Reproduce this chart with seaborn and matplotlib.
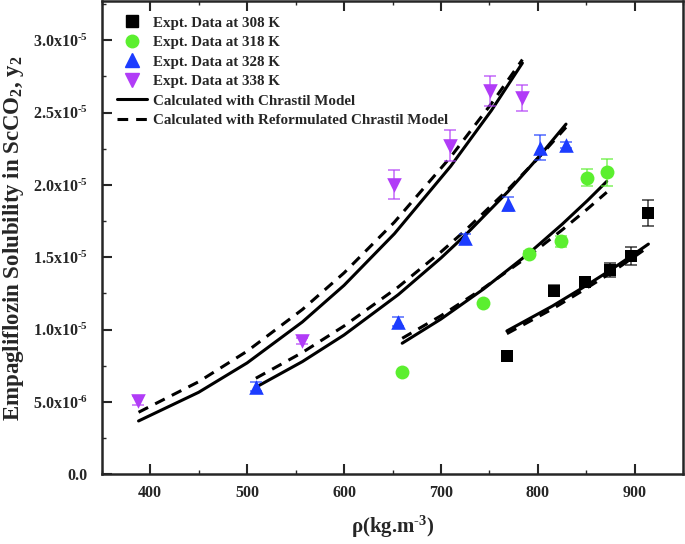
import numpy as np
import pandas as pd
import seaborn as sns
import matplotlib.pyplot as plt
from matplotlib.lines import Line2D
from matplotlib.ticker import MultipleLocator, FixedLocator

# experimental data (y in units of 1e-5)
rho_308 = [768.5, 816.6, 848.6, 874.7, 896.4, 914.0]
y_308 = [0.818, 1.270, 1.332, 1.413, 1.510, 1.807]
err_308 = [0.0, 0.04, 0.02, 0.05, 0.062, 0.09]

rho_318 = [660.2, 743.8, 790.8, 823.5, 850.6, 871.2]
y_318 = [0.710, 1.187, 1.523, 1.609, 2.050, 2.088]
err_318 = [0.0, 0.0, 0.02, 0.04, 0.06, 0.093]

rho_328 = [508.8, 655.8, 724.5, 768.9, 801.9, 828.7]
y_328 = [0.606, 1.055, 1.632, 1.869, 2.258, 2.277]
err_328 = [0.03, 0.03, 0.03, 0.05, 0.089, 0.02]

rho_338 = [387.7, 557.0, 651.5, 709.8, 751.0, 783.3]
y_338 = [0.509, 0.923, 2.000, 2.270, 2.648, 2.603]
err_338 = [0.03, 0.02, 0.10, 0.107, 0.101, 0.089]

# model curves
cx_308 = [768, 815, 848, 873, 894, 914]
chr_308 = [0.991, 1.163, 1.297, 1.403, 1.498, 1.591]
ref_308 = [0.972, 1.143, 1.277, 1.383, 1.478, 1.572]

cx_318 = [660, 700, 744, 791, 825, 851, 871]
chr_318 = [0.906, 1.073, 1.281, 1.529, 1.728, 1.891, 2.024]
ref_318 = [0.940, 1.096, 1.287, 1.511, 1.689, 1.833, 1.949]

cx_328 = [509, 557, 600, 656, 700, 725, 769, 802, 829]
chr_328 = [0.602, 0.779, 0.963, 1.242, 1.495, 1.652, 1.953, 2.202, 2.420]
ref_328 = [0.664, 0.842, 1.025, 1.295, 1.537, 1.685, 1.967, 2.197, 2.398]

cx_338 = [388, 450, 500, 557, 600, 652, 710, 752, 784]
chr_338 = [0.369, 0.567, 0.770, 1.053, 1.306, 1.663, 2.129, 2.514, 2.842]
ref_338 = [0.429, 0.640, 0.851, 1.139, 1.392, 1.743, 2.193, 2.561, 2.866]

temps = ['308', '318', '328', '338']
colors = ['#000000', '#5bef2f', '#1c3cff', '#b13cf7']
markers = ['s', 'o', '^', 'v']
msizes = [9, 10, 10.5, 10.5]

exp = [(rho_308, y_308, err_308), (rho_318, y_318, err_318),
       (rho_328, y_328, err_328), (rho_338, y_338, err_338)]
curves = [(cx_308, chr_308, ref_308), (cx_318, chr_318, ref_318),
          (cx_328, chr_328, ref_328), (cx_338, chr_338, ref_338)]

DASH = (3.5, 2.6)

sns.set_style('ticks')
plt.rcParams['font.family'] = ['Liberation Serif', 'DejaVu Serif']
plt.rcParams['font.weight'] = 'bold'
plt.rcParams['mathtext.fontset'] = 'custom'
plt.rcParams['mathtext.rm'] = 'Liberation Serif:bold'
plt.rcParams['mathtext.it'] = 'Liberation Serif:bold'
plt.rcParams['mathtext.bf'] = 'Liberation Serif:bold'
plt.rcParams['mathtext.default'] = 'rm'

fig = plt.figure(figsize=(6.85, 5.44), dpi=100)
ax = fig.add_axes([0.1485, 0.128, 0.849, 0.870])

for (cx, c1, c2) in curves:
    df = pd.DataFrame({'rho': cx, 'chr': np.array(c1) * 1e-5, 'ref': np.array(c2) * 1e-5})
    sns.lineplot(data=df, x='rho', y='chr', ax=ax, color='black', lw=2.2, legend=False)
    sns.lineplot(data=df, x='rho', y='ref', ax=ax, color='black', lw=2.2, legend=False)
    ax.lines[-1].set_dashes(DASH)

for (r, y, e), col, m, ms in zip(exp, colors, markers, msizes):
    y = np.array(y) * 1e-5
    e = np.array(e) * 1e-5
    ax.errorbar(r, y, yerr=e, fmt='none', ecolor=col, elinewidth=1.2,
                capsize=4, capthick=1.2, alpha=0.7, zorder=3)
    sns.scatterplot(x=r, y=y, ax=ax, marker=m, color=col, s=ms ** 2,
                    edgecolor=col, linewidth=0, zorder=4, legend=False)

ax.set_xlim(350, 950)
ax.set_ylim(0, 3.27e-5)
ax.xaxis.set_major_locator(FixedLocator([400, 500, 600, 700, 800, 900]))
ax.xaxis.set_minor_locator(MultipleLocator(50))
yt = [0, 0.5e-5, 1.0e-5, 1.5e-5, 2.0e-5, 2.5e-5, 3.0e-5]
ylabels = ['0.0', r'5.0x10$^{\text{-6}}$', r'1.0x10$^{\text{-5}}$', r'1.5x10$^{\text{-5}}$',
           r'2.0x10$^{\text{-5}}$', r'2.5x10$^{\text{-5}}$', r'3.0x10$^{\text{-5}}$']
ax.set_yticks(yt)
ax.set_yticklabels(ylabels)
ax.yaxis.set_minor_locator(MultipleLocator(0.25e-5))
ax.tick_params(which='major', direction='in', length=7, width=1.5, labelsize=11.5)
ax.tick_params(which='minor', direction='in', length=3, width=1.0)
ax.tick_params(axis='x', which='major', pad=8)
ax.tick_params(axis='y', which='major', pad=10)
ax.tick_params(axis='x', which='both', top=True)
for lab in ax.get_xticklabels() + ax.get_yticklabels():
    lab.set_fontweight('bold')
for sp in ax.spines.values():
    sp.set_linewidth(1.8)

ax.set_xlabel(r'ρ(kg.m$^{\text{-3}}$)', fontsize=15, fontweight='bold', labelpad=9)
ax.set_ylabel(r'Empagliflozin Solubility in ScCO$_2$, y$_2$', fontsize=16.5,
              fontweight='bold', labelpad=5)

handles = [Line2D([], [], ls='none', marker=m, color=c, markersize=ms * 0.9)
           for m, c, ms in zip(markers, colors, msizes)]
labels = ['Expt. Data at %s K' % t for t in temps]
handles.append(Line2D([], [], color='black', lw=2.2))
labels.append('Calculated with Chrastil Model')
handles.append(Line2D([], [], color='black', lw=2.2, dashes=DASH))
labels.append('Calculated with Reformulated Chrastil Model')
ax.legend(handles, labels, loc='upper left', bbox_to_anchor=(0.0, 1.0),
          frameon=False, prop={'weight': 'bold', 'size': 10.8},
          handlelength=2.05, handletextpad=0.35, labelspacing=0.4,
          borderaxespad=0.6, borderpad=0.4)

fig.savefig('out.png', dpi=100)
